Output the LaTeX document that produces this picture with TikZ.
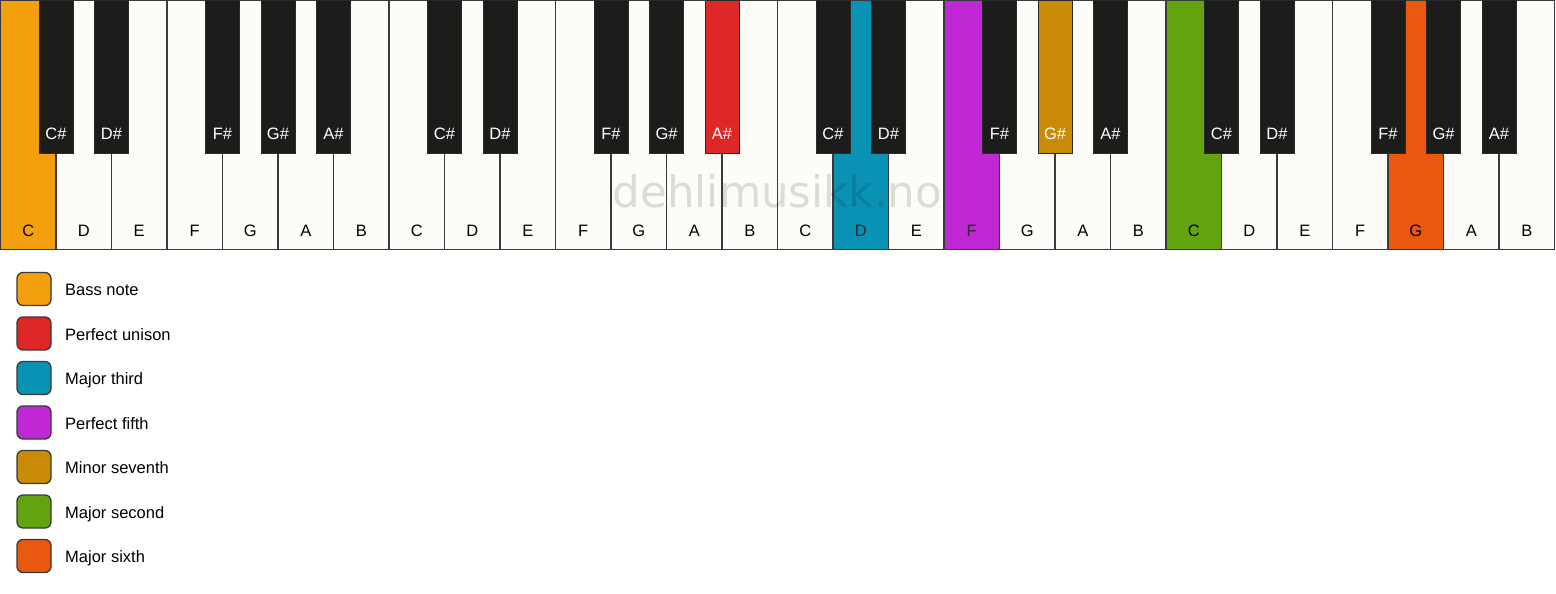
\documentclass[tikz,border=0pt]{standalone}
\usepackage{fontspec}
\setmainfont{Liberation Sans}
\newfontfamily\wmfont{DejaVu Sans}
\definecolor{wkcol}{HTML}{FDFCF8}
\definecolor{bkcol}{HTML}{1C1C1A}
\definecolor{edgecol}{HTML}{3A3A3A}
\definecolor{bass}{HTML}{F4A00E}
\definecolor{unison}{HTML}{DE2828}
\definecolor{third}{HTML}{0A92B5}
\definecolor{fifth}{HTML}{C028D5}
\definecolor{seventh}{HTML}{C98A06}
\definecolor{second}{HTML}{62A30F}
\definecolor{sixth}{HTML}{E8580E}
\tikzset{
  whitekey/.style={draw=edgecol, line width=1.3pt, rectangle, inner sep=0pt, outer sep=0pt,
    minimum width=55.5pt, minimum height=249pt, anchor=north west},
  blackkey/.style={draw=edgecol!70!black, line width=1pt, rectangle, inner sep=0pt, outer sep=0pt,
    minimum width=34pt, minimum height=152.5pt, anchor=north},
  keylabel/.style={inner sep=0pt, font=\fontsize{16.5}{18}\selectfont, anchor=base},
  legbox/.style={draw=edgecol, line width=1.3pt, rectangle, rounded corners=6pt, inner sep=0pt,
    minimum width=34pt, minimum height=33pt},
  legtext/.style={inner sep=0pt, anchor=base west, font=\fontsize{16.5}{18}\selectfont, text=black},
  watermark/.style={inner sep=0pt, anchor=base, text=black, text opacity=0.13,
    font=\wmfont\fontsize{43.5}{48}\selectfont}
}
\begin{document}
\begin{tikzpicture}[x=1pt,y=-1pt]
\useasboundingbox (0,0) rectangle (1556,594);
\fill[white] (0,0) rectangle (1556,594);
% white keys
\foreach \i/\n/\c/\t in {0/C/bass/black,1/D/wkcol/black,2/E/wkcol/black,3/F/wkcol/black,4/G/wkcol/black,5/A/wkcol/black,6/B/wkcol/black,
  7/C/wkcol/black,8/D/wkcol/black,9/E/wkcol/black,10/F/wkcol/black,11/G/wkcol/black,12/A/wkcol/black,13/B/wkcol/black,
  14/C/wkcol/black,15/D/third/black!85,16/E/wkcol/black,17/F/fifth/black!85,18/G/wkcol/black,19/A/wkcol/black,20/B/wkcol/black,
  21/C/second/black,22/D/wkcol/black,23/E/wkcol/black,24/F/wkcol/black,25/G/sixth/black,26/A/wkcol/black,27/B/wkcol/black}{
  \node[whitekey, fill=\c] (w\i) at ({0.5+55.5*\i},0.5) {};
  \node[keylabel, text=\t] (wl\i) at ([yshift=13pt]w\i.south) {\n};
}
% black keys
\foreach \o in {0,1,2,3}{
  \foreach \k/\n in {1/C\#,2/D\#,4/F\#,5/G\#,6/A\#}{
    \pgfmathtruncatemacro{\b}{7*\o+\k}
    \def\kc{bkcol}
    \ifnum\b=13 \def\kc{unison}\fi
    \ifnum\b=19 \def\kc{seventh}\fi
    \node[blackkey, fill=\kc] (b\b) at ({0.5+55.5*\b},0.5) {};
    \node[keylabel, text=white] (bl\b) at ([yshift=14pt]b\b.south) {\n};
  }
}
% watermark
\node[watermark] (wm) at (777.5,207) {dehlimusikk.no};
% legend
\foreach \c/\t [count=\j from 0] in {bass/Bass note,unison/Perfect unison,third/Major third,fifth/Perfect fifth,seventh/Minor seventh,second/Major second,sixth/Major sixth}{
  \node[legbox, fill=\c] (lg\j) at (34,{289+44.5*\j}) {};
  \node[legtext] (lt\j) at (65,{295.5+44.5*\j}) {\t};
}
\end{tikzpicture}
\end{document}
